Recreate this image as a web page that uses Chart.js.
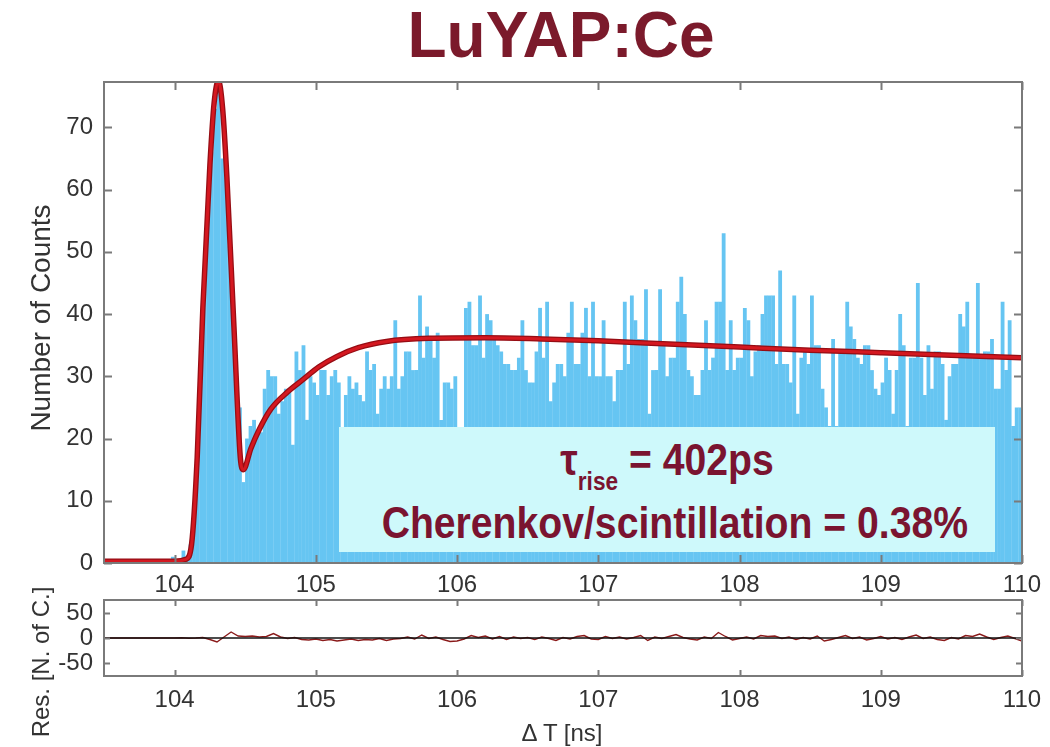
<!DOCTYPE html>
<html>
<head>
<meta charset="utf-8">
<script src="https://cdn.jsdelivr.net/npm/chart.js@4.4.1/dist/chart.umd.min.js"></script>
<style>
  body { margin: 0; background: #fff; }
  #page { position: relative; width: 1050px; height: 747px; overflow: hidden;
          font-family: 'Liberation Sans', Arial, sans-serif; color: #333; }
  canvas { position: absolute; left: 0; }
  #main { top: 0; }
  #res { top: 575px; }
  .lbl { position: absolute; white-space: nowrap; text-align: center; }
  #title { left: 311px; width: 500px; top: 3px; font-size: 64px; line-height: 64px;
           font-weight: bold; color: #7b1a2b; }
  .ytitle { width: 400px; height: 30px; line-height: 30px; font-size: 24px;
            transform: rotate(-90deg); }
  #ylab1 { left: -159px; top: 303px; font-size: 28px; }
  #ylab2 { left: -159px; top: 647px; }
  #xlab { left: 412px; width: 300px; top: 718px; font-size: 24px; line-height: 30px; }
  #note { position: absolute; left: 339px; top: 427px; width: 656px; height: 125px;
          background: #cef9fb; }
  .noteline { left: 339px; width: 656px; font-size: 45px; line-height: 45px;
              font-weight: bold; color: #7a1430; transform: scaleX(0.87); }
  #note1 { top: 437px; }
  #note2 { top: 500px; }
  .sub { font-size: 26px; vertical-align: -15px; }
</style>
</head>
<body>
<div id="page">
  <canvas id="main" width="1050" height="598"></canvas>
  <canvas id="res" width="1050" height="172"></canvas>
  <div id="title" class="lbl">LuYAP:Ce</div>
  <div id="ylab1" class="lbl ytitle">Number of Counts</div>
  <div id="ylab2" class="lbl ytitle">Res. [N. of C.]</div>
  <div id="xlab" class="lbl">&Delta; T [ns]</div>
  <div id="note"></div>
  <div id="note1" class="lbl noteline">&tau;<span class="sub">rise</span> = 402ps</div>
  <div id="note2" class="lbl noteline">Cherenkov/scintillation = 0.38%</div>
</div>
<script>
// histogram: 25 ps bins starting at 103.5 ns
const BIN_START = 103.5;
const BIN_WIDTH = 0.025;

// counts per bin, one row per ns
const counts1035 = [0,0,0,0,0,0,0,0,0,0, 0,0,0,0,0,0,0,0,0,1];
const counts104 = [0,0,2,1,3,7,18,33,46,58, 66,73,77,65,63,51,41,30,25,13,
                   20,22,23,21,21,28,31,30,30,24, 26,28,28,19,34,31,35,23,30,29];
const counts105 = [27,31,31,27,30,31,29,21,27,30, 28,29,27,26,34,31,32,24,28,30,
                   28,30,39,28,30,34,34,31,31,43, 33,38,36,33,37,23,29,29,28,30];
const counts106 = [21,21,41,42,35,35,43,33,40,39, 36,35,34,32,32,31,31,33,39,31,
                   29,29,34,41,33,42,26,29,32,32, 30,37,42,32,32,37,41,30,42,30];
const counts107 = [30,39,30,30,26,31,31,42,32,43, 39,36,36,44,24,31,31,44,35,30,
                   33,33,42,46,40,31,30,27,27,31, 39,31,33,42,42,53,31,39,31,33];
const counts108 = [33,41,39,30,34,35,40,43,43,43, 32,47,32,32,29,43,24,33,34,32,
                   43,35,35,28,25,22,36,22,34,34, 42,38,36,33,32,35,35,31,28,27];
const counts109 = [29,33,31,24,31,40,35,22,33,33, 45,33,27,35,28,34,34,32,23,30,
                   32,32,40,38,42,33,33,45,33,34, 34,36,28,28,42,31,39,22,25,25];
const counts = [].concat(counts1035, counts104, counts105, counts106, counts107, counts108, counts109);

// fitted curve
const fitT = [103.5, 104.0, 104.08, 104.12, 104.16, 104.2, 104.25, 104.28, 104.31, 104.34,
              104.37, 104.42, 104.465, 104.487, 104.54, 104.6, 104.68, 104.8, 104.91, 105.02,
              105.15, 105.3, 105.5, 105.8, 106.2, 106.6, 107.0, 107.5, 108.0, 108.5,
              109.0, 109.5, 110.0];
const fitY = [0.3, 0.3, 0.6, 3, 17, 41, 64, 74, 77.5, 73,
              62, 38, 17, 15, 18.4, 21.5, 24.7, 27.5, 29.5, 31.5,
              33.2, 34.6, 35.6, 36.1, 36.2, 36.0, 35.7, 35.2, 34.7, 34.2,
              33.8, 33.4, 33.0];

// residuals every 50 ps from 103.5 ns
const RES_START = 103.5;
const RES_STEP = 0.05;
const res1035 = [0,0,0,0,0,0,0,0,0,0];
const res104 = [0,0.5,-0.5,0,1,-3,-8,2,12,4, 3,4,2,3,9,2,-1,1,-3,-4];
const res105 = [-2,-5,-3,-6,-4,-2,-5,-3,-4,-1, -5,-2,-1,2,-2,6,-1,2,-3,-7];
const res106 = [-6,-2,5,1,4,-2,3,-3,2,-1, 1,-3,2,-1,-5,1,-2,3,5,-2];
const res107 = [-3,3,-1,2,-2,1,5,-5,2,-1, 3,7,1,-2,-4,2,-1,11,3,-4];
const res108 = [-1,2,-2,5,3,4,-1,2,-3,1, -2,4,-6,-3,1,5,-1,2,-4,-1];
const res109 = [3,-2,1,-3,2,6,-1,2,-3,-5, 1,-2,5,3,8,2,-3,1,4,-1];
const res110 = [-6];
const residuals = [].concat(res1035, res104, res105, res106, res107, res108, res109, res110);

// axis ticks
const xTicks = [104, 105, 106, 107, 108, 109, 110];
const yTicks = [0, 10, 20, 30, 40, 50, 60, 70];
const resTicks = [-50, 0, 50];

Chart.defaults.font.family = "'Liberation Sans', Arial, sans-serif";
Chart.defaults.font.size = 24;
Chart.defaults.color = '#333';

// MATLAB style box with inward ticks
const frame = {
  id: 'frame',
  afterDatasetsDraw(chart, args, opts) {
    const { ctx, chartArea: a, scales: { x, y } } = chart;
    const L = opts.len;
    ctx.save();
    ctx.strokeStyle = '#7a7a7a';
    ctx.lineWidth = 2;
    ctx.beginPath();
    x.ticks.forEach(t => {
      const px = Math.round(x.getPixelForValue(t.value)) + 0.5;
      ctx.moveTo(px, a.bottom); ctx.lineTo(px, a.bottom - L);
      ctx.moveTo(px, a.top); ctx.lineTo(px, a.top + L);
    });
    y.ticks.forEach(t => {
      const py = Math.round(y.getPixelForValue(t.value)) + 0.5;
      ctx.moveTo(a.left, py); ctx.lineTo(a.left + L, py);
      ctx.moveTo(a.right, py); ctx.lineTo(a.right - L, py);
    });
    ctx.stroke();
    ctx.strokeRect(a.left, a.top, a.width, a.height);
    ctx.restore();
  }
};

const fixTicks = list => scale => { scale.ticks = list.map(v => ({ value: v })); };
const fitPoints = fitT.map((t, i) => ({ x: t, y: fitY[i] }));

new Chart(document.getElementById('main'), {
  type: 'bar',
  data: {
    datasets: [
      {
        // bright core of the fit line
        type: 'line',
        data: fitPoints,
        borderColor: '#d41820',
        borderWidth: 3,
        pointRadius: 0,
        cubicInterpolationMode: 'monotone',
        order: 0,
      },
      {
        // darker rim under it
        type: 'line',
        data: fitPoints,
        borderColor: '#960d14',
        borderWidth: 5.5,
        pointRadius: 0,
        cubicInterpolationMode: 'monotone',
        order: 1,
      },
      {
        type: 'bar',
        data: counts.map((c, i) => ({ x: BIN_START + BIN_WIDTH * (i + 0.5), y: c })),
        backgroundColor: '#66c5f2',
        borderWidth: 0,
        barPercentage: 1.08,
        categoryPercentage: 1,
        order: 2,
      }
    ]
  },
  options: {
    responsive: false,
    animation: false,
    layout: { padding: { left: 0, right: 28, top: 82, bottom: 0 } },
    plugins: { legend: { display: false }, tooltip: { enabled: false }, frame: { len: 8 } },
    scales: {
      x: {
        type: 'linear', min: 103.5, max: 110, offset: false,
        grid: { display: false }, border: { display: false },
        afterBuildTicks: fixTicks(xTicks),
        afterFit: s => { s.height = 35; },
        ticks: { padding: 0, maxRotation: 0, autoSkip: false },
      },
      y: {
        min: 0, max: 77.3,
        grid: { display: false }, border: { display: false },
        afterBuildTicks: fixTicks(yTicks),
        afterFit: s => { s.width = 104; },
        ticks: { padding: 3, autoSkip: false },
      }
    }
  },
  plugins: [frame]
});

new Chart(document.getElementById('res'), {
  type: 'line',
  data: {
    datasets: [
      {
        data: [{ x: 103.5, y: 0 }, { x: 110, y: 0 }],
        borderColor: '#111',
        borderWidth: 1.5,
        pointRadius: 0,
        order: 0,
      },
      {
        data: residuals.map((r, i) => ({ x: RES_START + RES_STEP * i, y: r })),
        borderColor: '#8a1a1a',
        borderWidth: 1.4,
        pointRadius: 0,
        tension: 0,
        order: 1,
      }
    ]
  },
  options: {
    responsive: false,
    animation: false,
    layout: { padding: { left: 0, right: 28, top: 25, bottom: 0 } },
    plugins: { legend: { display: false }, tooltip: { enabled: false }, frame: { len: 6 } },
    scales: {
      x: {
        type: 'linear', min: 103.5, max: 110,
        grid: { display: false }, border: { display: false },
        afterBuildTicks: fixTicks(xTicks),
        afterFit: s => { s.height = 71; },
        ticks: { padding: 2, maxRotation: 0, autoSkip: false },
      },
      y: {
        min: -76, max: 76,
        grid: { display: false }, border: { display: false },
        afterBuildTicks: fixTicks(resTicks),
        afterFit: s => { s.width = 104; },
        ticks: { padding: 3, autoSkip: false },
      }
    }
  },
  plugins: [frame]
});
</script>
</body>
</html>
